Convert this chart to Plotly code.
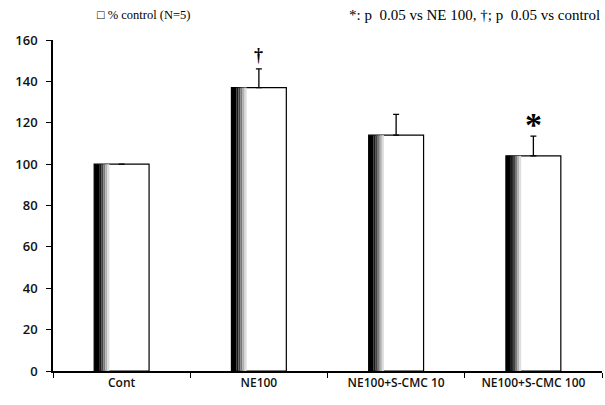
import plotly.graph_objects as go

categories = ["Cont", "NE100", "NE100+S-CMC 10", "NE100+S-CMC 100"]
values = [100, 137, 114, 104]
errors = [0, 9, 10, 9.5]
marks = ["", "†", "", "*"]
y_ticks = [0, 20, 40, 60, 80, 100, 120, 140, 160]

fig = go.Figure()

# main white bar with outline
fig.add_trace(go.Bar(
    x=categories, y=values, width=0.40, offset=-0.20,
    marker=dict(color="white", line=dict(color="black", width=1.2)),
    error_y=dict(type="data", symmetric=False, array=errors,
                 arrayminus=[0] * len(errors), color="black",
                 thickness=1.3, width=3),
    showlegend=False,
))

# dark shaded left edge (gradient imitation)
shades = ["#000000", "#1a1a1a", "#444444", "#7a7a7a", "#b0b0b0", "#dddddd"]
step = 0.015
for i, c in enumerate(shades):
    fig.add_trace(go.Bar(
        x=categories, y=values, width=step if i else 0.036,
        offset=-0.20 + (0.036 + (i - 1) * step if i else 0),
        marker=dict(color=c, line=dict(width=0)),
        showlegend=False, hoverinfo="skip",
    ))

# significance marks
for cat, v, e, m in zip(categories, values, errors, marks):
    if m:
        fig.add_annotation(x=cat, y=v + e, text=f"<b>{m}</b>", showarrow=False,
                           yanchor="bottom", yshift=2 if m == "†" else -9,
                           font=dict(family="Liberation Serif", size=18 if m == "†" else 34,
                                     color="black"))

fig.add_annotation(xref="paper", yref="paper", x=0.077, y=1.075,
                   xanchor="left", yanchor="middle", showarrow=False,
                   text="□ % control (N=5)",
                   font=dict(family="Liberation Serif", size=12.5, color="black"))

fig.add_annotation(xref="paper", yref="paper", x=1.0, y=1.075,
                   xanchor="right", yanchor="middle", showarrow=False,
                   text="*: p  0.05 vs NE 100, †; p  0.05 vs control",
                   font=dict(family="Liberation Serif", size=15, color="black"))

fig.update_layout(
    width=605, height=405, barmode="overlay",
    margin=dict(l=53, r=3, t=40, b=34),
    plot_bgcolor="white", paper_bgcolor="white",
    xaxis=dict(showline=True, linecolor="black", linewidth=1.5,
               ticks="outside", tickson="boundaries", ticklen=5, tickcolor="black",
               tickfont=dict(family="Open Sans", size=12, color="#111", weight=600),
               showgrid=False, range=[-0.5, 3.5]),
    yaxis=dict(range=[0, 160], tickvals=y_ticks, showline=True, linecolor="black",
               linewidth=1.5, ticks="outside", ticklen=5, tickcolor="black",
               tickfont=dict(family="Open Sans", size=13, color="#111", weight=600),
               showgrid=False, zeroline=False, ticklabelstandoff=6),
)

fig.write_html("out.html")
